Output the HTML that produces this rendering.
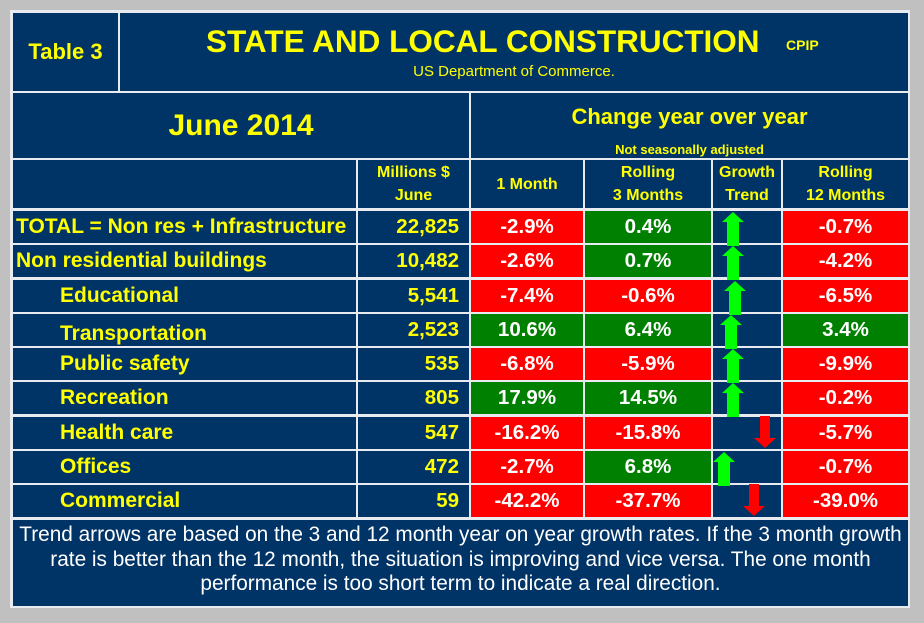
<!DOCTYPE html>
<html><head><meta charset="utf-8">
<style>
body{margin:0;width:924px;height:623px;background:#c0c0c0;position:relative;overflow:hidden;font-family:"Liberation Sans",Arial,sans-serif;}
#panel{position:absolute;left:10px;top:10px;width:900px;height:598px;background:#e8ecf0;}
.c{position:absolute;box-sizing:border-box;display:flex;align-items:center;justify-content:center;font-weight:bold;}
.navy{background:#003366;}
.y{color:#ffff00;}
.w{color:#fff;}
.red{background:#ff0000;}
.grn{background:#008000;}
</style></head>
<body>
<div id="panel"></div>
<div class="c navy y" style="left:13px;top:13px;width:105px;height:78px;font-size:22px;">Table 3</div>
<div class="c navy" style="left:120px;top:13px;width:788px;height:78px;"></div>
<div class="y" style="position:absolute;left:206px;top:23px;font-size:31.5px;font-weight:bold;white-space:nowrap;">STATE AND LOCAL CONSTRUCTION</div>
<div class="y" style="position:absolute;left:786px;top:37px;font-size:14px;font-weight:bold;">CPIP</div>
<div class="y" style="position:absolute;left:120px;width:788px;top:63px;font-size:15px;text-align:center;">US Department of Commerce.</div>
<div class="c navy y" style="left:13px;top:93px;width:456px;height:65px;font-size:30px;">June 2014</div>
<div class="c navy" style="left:471px;top:93px;width:437px;height:65px;"></div>
<div class="y" style="position:absolute;left:471px;width:437px;top:104px;font-size:22px;font-weight:bold;text-align:center;">Change year over year</div>
<div class="y" style="position:absolute;left:471px;width:437px;top:142px;font-size:13px;font-weight:bold;text-align:center;">Not seasonally adjusted</div>
<div id="tbl"></div>
<div class="navy w" style="position:absolute;left:13px;top:520px;width:895px;height:86px;font-size:20.8px;line-height:24.5px;text-align:center;padding-top:3px;box-sizing:border-box;white-space:nowrap;">Trend arrows are based on the 3 and 12 month year on year growth rates. If the 3 month growth<br>rate is better than the 12 month, the situation is improving and vice versa. The one month<br>performance is too short term to indicate a real direction.</div>
<svg id="arrows" style="position:absolute;left:0;top:0;" width="924" height="623"></svg>
<script>
const labels=["TOTAL = Non res + Infrastructure","Non residential buildings","Educational","Transportation","Public safety","Recreation","Health care","Offices","Commercial"];
const indent=[0,0,1,1,1,1,1,1,1];
const millions=["22,825","10,482","5,541","2,523","535","805","547","472","59"];
const oneMonth=[-2.9,-2.6,-7.4,10.6,-6.8,17.9,-16.2,-2.7,-42.2];
const threeMonth=[0.4,0.7,-0.6,6.4,-5.9,14.5,-15.8,6.8,-37.7];
const twelveMonth=[-0.7,-4.2,-6.5,3.4,-9.9,-0.2,-5.7,-0.7,-39.0];
const trend=["up","up","up","up","up","up","down","up","down"];
const arrowX=[733,733,735,731,733,733,765,724,754];
const tbl=document.getElementById('tbl');
function cell(x,y,w,h,cls,txt,fs,just){
  const d=document.createElement('div');
  d.className='c '+cls;
  d.style.cssText=`left:${x}px;top:${y}px;width:${w}px;height:${h}px;font-size:${fs}px;justify-content:${just||'center'};`;
  d.innerHTML=txt;tbl.appendChild(d);return d;
}
let h=cell(13,160,343,48,'navy','',16);


const heads=[[358,111,'Millions $<br>June','col-millions-header'],[471,112,'1 Month','col-1month-header'],[585,126,'Rolling<br>3 Months','col-3month-header'],[713,68,'Growth<br>Trend','col-trend-header'],[783,125,'Rolling<br>12 Months','col-12month-header']];
heads.forEach(a=>{const e=cell(a[0],160,a[1],48,'navy y',a[2],16);e.style.textAlign='center';e.style.lineHeight='23px';

});
const top0=210,rh=34.25;
function fmt(v){return v.toFixed(1)+'%';}
labels.forEach((lab,i)=>{
  const y=Math.round(top0+i*rh)+1, hh=Math.round(rh)-2;
  let e=cell(13,y,343,hh,'navy y',lab,21,'flex-start');
  e.style.paddingLeft=(indent[i]?47:3)+'px';
  if(i==3)e.style.paddingTop='8px';
  
  
  e=cell(358,y,111,hh,'navy y',millions[i],20.5,'flex-end');e.style.paddingRight='10px';
  
  
  e=cell(471,y,112,hh,'w '+(oneMonth[i]<0?'red':'grn'),fmt(oneMonth[i]),20.5);
  
  
  e=cell(585,y,126,hh,'w '+(threeMonth[i]<0?'red':'grn'),fmt(threeMonth[i]),20.5);
  
  
  e=cell(713,y,68,hh,'navy','',20);
  
  
  e=cell(783,y,125,hh,'w '+(twelveMonth[i]<0?'red':'grn'),fmt(twelveMonth[i]),20.5);
  
  
});
const svg=document.getElementById('arrows');
trend.forEach((t,i)=>{
  const cx=arrowX[i];const p=document.createElementNS('http://www.w3.org/2000/svg','polygon');
  let pts;
  if(t==='up'){const y0=Math.round(top0+i*rh)+2;pts=`${cx},${y0} ${cx+11},${y0+10} ${cx+6},${y0+10} ${cx+6},${y0+34} ${cx-6},${y0+34} ${cx-6},${y0+10} ${cx-11},${y0+10}`;p.setAttribute('fill','#00ff00');}
  else{const y0=Math.round(top0+i*rh)+0;pts=`${cx-5},${y0} ${cx+5},${y0} ${cx+5},${y0+22} ${cx+11},${y0+22} ${cx},${y0+32} ${cx-11},${y0+22} ${cx-5},${y0+22}`;p.setAttribute('fill','#ff0000');}
  p.setAttribute('points',pts);
  
  
  svg.appendChild(p);
});
</script>
</body></html>
